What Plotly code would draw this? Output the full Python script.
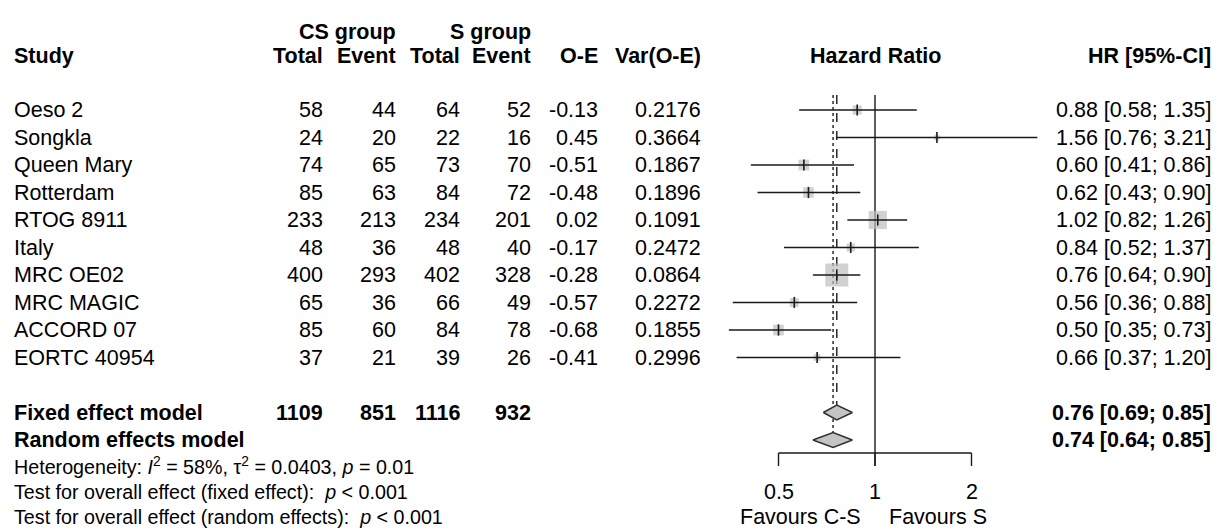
import numpy as np
import plotly.graph_objects as go

# ---------------- data ----------------
studies = ["Oeso 2", "Songkla", "Queen Mary", "Rotterdam", "RTOG 8911", "Italy",
           "MRC OE02", "MRC MAGIC", "ACCORD 07", "EORTC 40954"]
cs_total = [58, 24, 74, 85, 233, 48, 400, 65, 85, 37]
cs_event = [44, 20, 65, 63, 213, 36, 293, 36, 60, 21]
s_total = [64, 22, 73, 84, 234, 48, 402, 66, 84, 39]
s_event = [52, 16, 70, 72, 201, 40, 328, 49, 78, 26]
o_minus_e = [-0.13, 0.45, -0.51, -0.48, 0.02, -0.17, -0.28, -0.57, -0.68, -0.41]
var_oe = [0.2176, 0.3664, 0.1867, 0.1896, 0.1091, 0.2472, 0.0864, 0.2272, 0.1855, 0.2996]
hr = [0.88, 1.56, 0.60, 0.62, 1.02, 0.84, 0.76, 0.56, 0.50, 0.66]
hr_lo = [0.58, 0.76, 0.41, 0.43, 0.82, 0.52, 0.64, 0.36, 0.35, 0.37]
hr_hi = [1.35, 3.21, 0.86, 0.90, 1.26, 1.37, 0.90, 0.88, 0.73, 1.20]

totals = [1109, 851, 1116, 932]
fixed_hr, fixed_lo, fixed_hi = 0.76, 0.69, 0.85
random_hr, random_lo, random_hi = 0.74, 0.64, 0.85

tick_vals = [0.5, 1, 2]
tick_text = ["0.5", "1", "2"]

# ---------------- layout helpers ----------------
W, H = 1221, 531
ROW0_PX, ROW_PX = 110, 27.5


def row(px):
    return (px - ROW0_PX) / ROW_PX


REF_PX, PX_PER_LOG2 = 875, 96.5
X_LEFT_PX, X_RIGHT_PX = 700, 1050


def logx(px):
    return (px - REF_PX) / PX_PER_LOG2 * np.log10(2)


FONT = "Liberation Sans, Arial, sans-serif"
FS = 21.5
FS_STAT = 19.7
LINE = "#1a1a1a"

n = len(studies)
rows = list(range(n))
ROW_FIXED, ROW_RANDOM = n + 1, n + 2

fig = go.Figure()

# reference line at HR = 1
fig.add_trace(go.Scatter(x=[1, 1], y=[row(95), row(466)], mode="lines",
                         line=dict(color=LINE, width=1.4), hoverinfo="skip"))

# axis bracket
bx, by = [tick_vals[0], tick_vals[-1]], [row(453), row(453)]
for t in tick_vals:
    bx += [None, t, t]
    by += [None, row(453), row(466)]
fig.add_trace(go.Scatter(x=bx, y=by, mode="lines",
                         line=dict(color=LINE, width=1.4), hoverinfo="skip"))

# pooled estimate lines
DH = 0.27
fig.add_trace(go.Scatter(x=[fixed_hr, fixed_hr], y=[row(95), ROW_FIXED - DH], mode="lines",
                         line=dict(color=LINE, width=1.4, dash="dash"), hoverinfo="skip"))
fig.add_trace(go.Scatter(x=[random_hr, random_hr], y=[row(95), ROW_RANDOM - DH], mode="lines",
                         line=dict(color=LINE, width=1.4, dash="dot"), hoverinfo="skip"))

# squares (size proportional to weight = 1/var)
w = [1 / v for v in var_oe]
wmax = max(w)
sizes = [max(4, 23 * wi / wmax) for wi in w]
fig.add_trace(go.Scatter(x=hr, y=rows, mode="markers",
                         marker=dict(symbol="square", size=sizes, color="#bdbdbd",
                                     line=dict(width=0)), hoverinfo="skip"))

# CI lines
cx, cy = [], []
for i in range(n):
    cx += [hr_lo[i], hr_hi[i], None]
    cy += [i, i, None]
fig.add_trace(go.Scatter(x=cx, y=cy, mode="lines",
                         line=dict(color=LINE, width=1.4), hoverinfo="skip"))

# point-estimate ticks
fig.add_trace(go.Scatter(x=hr, y=rows, mode="markers",
                         marker=dict(symbol="line-ns", size=8,
                                     line=dict(width=1.6, color=LINE)), hoverinfo="skip"))

# diamonds
for est, lo, hi, r in [(fixed_hr, fixed_lo, fixed_hi, ROW_FIXED),
                       (random_hr, random_lo, random_hi, ROW_RANDOM)]:
    fig.add_trace(go.Scatter(x=[lo, est, hi, est, lo], y=[r, r - DH, r, r + DH, r],
                             mode="lines", fill="toself", fillcolor="#c4c4c4",
                             line=dict(color="#303030", width=1.5), hoverinfo="skip"))


# ---------------- text ----------------
def txt(xpx, y, s, anchor="right", bold=False, size=FS, xref="paper"):
    if bold:
        s = "<b>" + s + "</b>"
    x = xpx / W if xref == "paper" else xpx
    fig.add_annotation(x=x, y=y, xref=xref, yref="y", text=s, showarrow=False,
                       xanchor=anchor, yanchor="middle",
                       font=dict(family=FONT, size=size, color="black"))


X_STUDY = 12
X_CS_T, X_CS_E, X_S_T, X_S_E, X_OE, X_VAR, X_HR = 325, 398, 462, 533, 600, 703, 1213

HDR = row(56)
GRP = row(32)
txt(X_STUDY, HDR, "Study", "left", True)
txt(X_CS_E, GRP, "CS group", "right", True)
txt(X_S_E, GRP, "S group", "right", True)
for xp, lab in [(X_CS_T, "Total"), (X_CS_E, "Event"), (X_S_T, "Total"), (X_S_E, "Event"),
                (X_OE, "O-E"), (X_VAR, "Var(O-E)"), (X_HR, "HR [95%-CI]")]:
    txt(xp, HDR, lab, "right", True)
txt(REF_PX, HDR, "Hazard Ratio", "center", True)

for i in range(n):
    txt(X_STUDY, i, studies[i], "left")
    txt(X_CS_T, i, str(cs_total[i]))
    txt(X_CS_E, i, str(cs_event[i]))
    txt(X_S_T, i, str(s_total[i]))
    txt(X_S_E, i, str(s_event[i]))
    txt(X_OE, i, f"{o_minus_e[i]:.2f}")
    txt(X_VAR, i, f"{var_oe[i]:.4f}")
    txt(X_HR, i, f"{hr[i]:.2f} [{hr_lo[i]:.2f}; {hr_hi[i]:.2f}]")

txt(X_STUDY, ROW_FIXED, "Fixed effect model", "left", True)
for xp, v in zip([X_CS_T, X_CS_E, X_S_T, X_S_E], totals):
    txt(xp, ROW_FIXED, str(v), "right", True)
txt(X_HR, ROW_FIXED, f"{fixed_hr:.2f} [{fixed_lo:.2f}; {fixed_hi:.2f}]", "right", True)
txt(X_STUDY, ROW_RANDOM, "Random effects model", "left", True)
txt(X_HR, ROW_RANDOM, f"{random_hr:.2f} [{random_lo:.2f}; {random_hi:.2f}]", "right", True)

txt(X_STUDY, row(466), "Heterogeneity: <i>I</i><sup>2</sup> = 58%, τ<sup>2</sup> = 0.0403, <i>p</i> = 0.01",
    "left", size=FS_STAT)
txt(X_STUDY, row(492), "Test for overall effect (fixed effect):  <i>p</i> &lt; 0.001", "left", size=FS_STAT)
txt(X_STUDY, row(517), "Test for overall effect (random effects):  <i>p</i> &lt; 0.001", "left", size=FS_STAT)

# tick labels via x axis scale
for t, lab in zip(tick_vals, tick_text):
    fig.add_annotation(x=np.log10(t), y=row(492), xref="x", yref="y", text=lab, showarrow=False,
                       xanchor="center", yanchor="middle",
                       font=dict(family=FONT, size=FS, color="black"))
fig.add_annotation(x=0, y=row(517), xref="x", yref="y", text="Favours C-S", showarrow=False,
                   xanchor="right", xshift=-12, yanchor="middle",
                   font=dict(family=FONT, size=FS, color="black"))
fig.add_annotation(x=0, y=row(517), xref="x", yref="y", text="Favours S", showarrow=False,
                   xanchor="left", xshift=12, yanchor="middle",
                   font=dict(family=FONT, size=FS, color="black"))

fig.update_layout(
    width=W, height=H, margin=dict(l=0, r=0, t=0, b=0),
    paper_bgcolor="white", plot_bgcolor="white", showlegend=False,
    xaxis=dict(type="log", domain=[X_LEFT_PX / W, X_RIGHT_PX / W],
               range=[logx(X_LEFT_PX), logx(X_RIGHT_PX)], visible=False, fixedrange=True),
    yaxis=dict(range=[row(H), row(0)], domain=[0, 1], visible=False, fixedrange=True),
)

fig.write_html("out.html", config={"displayModeBar": False})

# remove the default page margin so the figure sits at the window origin
with open("out.html", "r", encoding="utf-8") as f:
    html = f.read()
html = html.replace("<head>", "<head><style>html,body{margin:0;padding:0;overflow:hidden;}</style>", 1)
with open("out.html", "w", encoding="utf-8") as f:
    f.write(html)
